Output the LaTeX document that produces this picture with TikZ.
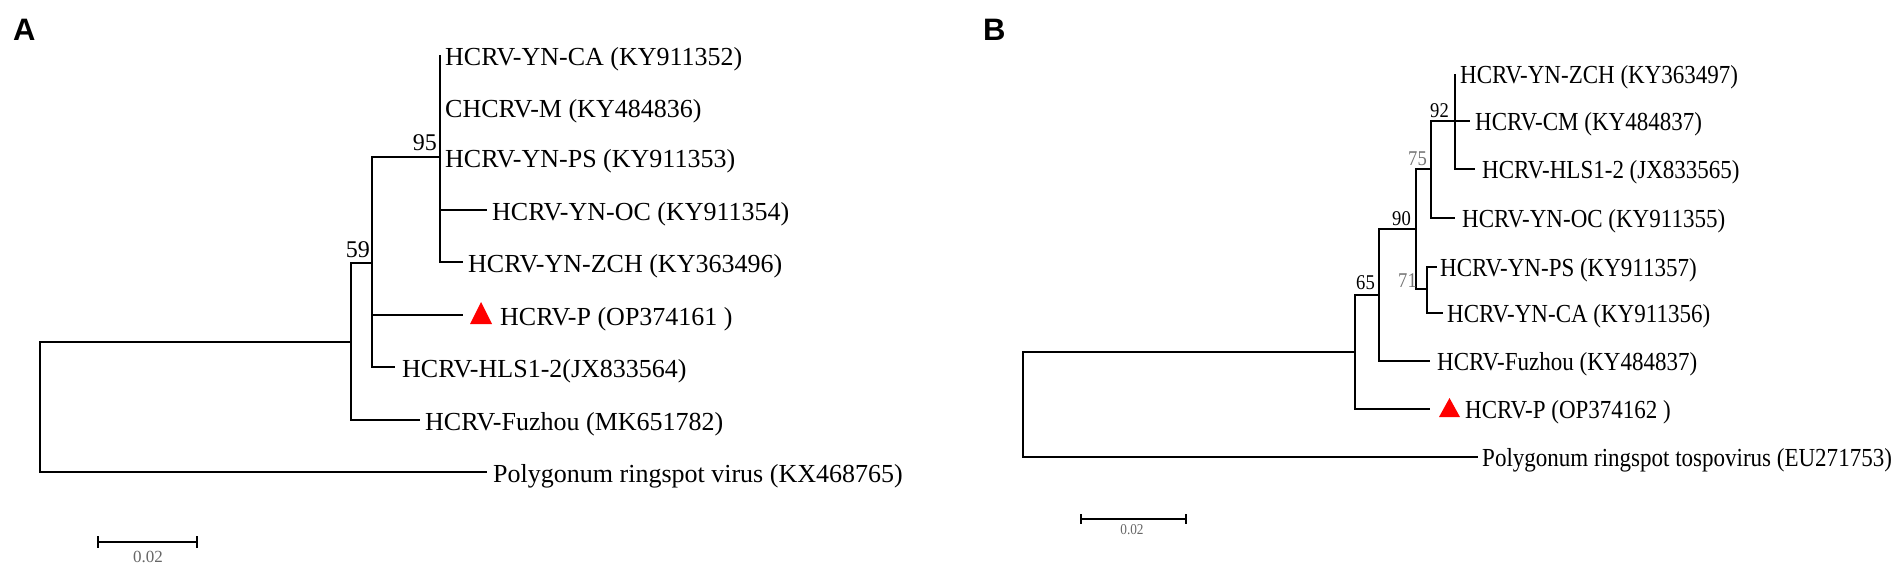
\documentclass[tikz,border=0pt]{standalone}
\usepackage{fontspec}
\setmainfont{Liberation Serif}
\newfontfamily\narrowserif[FakeStretch=0.885]{Liberation Serif}
\newfontfamily\panelfont{Liberation Sans}
\begin{document}
\begin{tikzpicture}[x=1pt,y=-1pt,
  br/.style={line width=2pt,line join=miter},
  thickbr/.style={line width=2.6pt,line join=miter},
  leafA/.style={anchor=base west,inner sep=0pt,font=\fontsize{26}{30}\selectfont},
  leafB/.style={anchor=base west,inner sep=0pt,font=\narrowserif\fontsize{26}{30}\selectfont},
  bootA/.style={anchor=base east,inner sep=0pt,font=\fontsize{24}{28}\selectfont},
  bootB/.style={anchor=base east,inner sep=0pt,font=\narrowserif\fontsize{21}{24}\selectfont},
  panel/.style={anchor=base west,inner sep=0pt,font=\panelfont\bfseries\fontsize{31}{36}\selectfont},
  scaletxt/.style={inner sep=0pt,text=black!60},
  redtri/.style={fill=red,draw=none}
]
\useasboundingbox (0,0) rectangle (1900,571);

% ================= Panel A =================
\node[panel] (lA) at (13,40) {A};

\coordinate (rootA) at (40,407);
\coordinate (inA) at (351,342);
\coordinate (n59) at (372,263);
\coordinate (n95) at (440,157);
\coordinate (a1) at (440,55);
\coordinate (a2) at (440,107);
\coordinate (a3) at (440,157);
\coordinate (a4) at (487,210);
\coordinate (a5) at (463,262);
\coordinate (a6) at (463,315);
\coordinate (a7) at (395,367);
\coordinate (a8) at (420,420);
\coordinate (a9) at (487,472);

\draw[br] (rootA) |- (inA);
\draw[br] (rootA) |- (a9);
\draw[br] (inA) |- (n59);
\draw[br] (inA) |- (a8);
\draw[br] (n59) |- (n95);
\draw[br] (n59) |- (a6);
\draw[br] (n59) |- (a7);
\draw[br] (n95) |- (a1);
\draw[br] (n95) |- (a2);
\draw[br] (n95) |- (a4);
\draw[br] (n95) |- (a5);

\node[bootA] (b95) at (437,150) {95};
\node[bootA] (b59) at (370,257) {59};

\node[leafA] (ta1) at (445,65) {HCRV-YN-CA (KY911352)};
\node[leafA] (ta2) at (445,117) {CHCRV-M (KY484836)};
\node[leafA] (ta3) at (445,167) {HCRV-YN-PS (KY911353)};
\node[leafA] (ta4) at (492,220) {HCRV-YN-OC (KY911354)};
\node[leafA] (ta5) at (468,272) {HCRV-YN-ZCH (KY363496)};
\fill[redtri] (470,324) -- (492,324) -- (481,302) -- cycle;
\node[leafA] (ta6) at (500,325) {HCRV-P (OP374161 )};
\node[leafA] (ta7) at (402,377) {HCRV-HLS1-2(JX833564)};
\node[leafA] (ta8) at (425,430) {HCRV-Fuzhou (MK651782)};
\node[leafA] (ta9) at (493,482) {Polygonum ringspot virus (KX468765)};

% scale bar A
\coordinate (sa1) at (98,542);
\coordinate (sa2) at (197,542);
\draw[line width=2.2pt] (sa1) -- (sa2);
\draw[line width=2.2pt] ([yshift=6pt]sa1) -- ([yshift=-6pt]sa1);
\draw[line width=2.2pt] ([yshift=6pt]sa2) -- ([yshift=-6pt]sa2);
\node[scaletxt,font=\fontsize{17}{20}\selectfont] (sta) at (148,557) {0.02};

% ================= Panel B =================
\node[panel] (lB) at (983,40) {B};

\coordinate (rootB) at (1023,400);
\coordinate (inB) at (1355,352);
\coordinate (n65) at (1379,295);
\coordinate (n90) at (1416,229);
\coordinate (n75) at (1431,169);
\coordinate (n92) at (1455,121);
\coordinate (n71) at (1427,289);
\coordinate (c1) at (1455,74);
\coordinate (c2) at (1470,121);
\coordinate (c3) at (1475,169);
\coordinate (c4) at (1455,218);
\coordinate (c5) at (1437,267);
\coordinate (c6) at (1443,313);
\coordinate (c7) at (1430,361);
\coordinate (c8) at (1430,409);
\coordinate (c9) at (1478,457);

\draw[br] (rootB) |- (inB);
\draw[br] (rootB) |- (c9);
\draw[br] (inB) |- (n65);
\draw[thickbr] (inB) |- (c8);
\draw[br] (n65) |- (n90);
\draw[br] (n65) |- (c7);
\draw[br] (n90) |- (n75);
\draw[br] (n90) |- (n71);
\draw[br] (n75) |- (n92);
\draw[br] (n75) |- (c4);
\draw[br] (n92) |- (c1);
\draw[br] (n92) |- (c2);
\draw[br] (n92) |- (c3);
\draw[br] (n71) |- (c5);
\draw[br] (n71) |- (c6);

\node[bootB] (b92) at (1449,117) {92};
\node[bootB,text=black!55] (b75) at (1427,165) {75};
\node[bootB] (b90) at (1411,225) {90};
\node[bootB,text=black!55] (b71) at (1417,287) {71};
\node[bootB] (b65) at (1375,289) {65};

\node[leafB] (tb1) at (1460,83) {HCRV-YN-ZCH (KY363497)};
\node[leafB] (tb2) at (1475,130) {HCRV-CM (KY484837)};
\node[leafB] (tb3) at (1482,178) {HCRV-HLS1-2 (JX833565)};
\node[leafB] (tb4) at (1462,227) {HCRV-YN-OC (KY911355)};
\node[leafB] (tb5) at (1440,276) {HCRV-YN-PS (KY911357)};
\node[leafB] (tb6) at (1447,322) {HCRV-YN-CA (KY911356)};
\node[leafB] (tb7) at (1437,370) {HCRV-Fuzhou (KY484837)};
\fill[redtri] (1439,417) -- (1460,417) -- (1449.5,398) -- cycle;
\node[leafB] (tb8) at (1465,418) {HCRV-P (OP374162 )};
\node[leafB] (tb9) at (1482,466) {Polygonum ringspot tospovirus (EU271753)};

% scale bar B
\coordinate (sb1) at (1081,519);
\coordinate (sb2) at (1186,519);
\draw[line width=2.2pt] (sb1) -- (sb2);
\draw[line width=2.2pt] ([yshift=5pt]sb1) -- ([yshift=-5pt]sb1);
\draw[line width=2.2pt] ([yshift=5pt]sb2) -- ([yshift=-5pt]sb2);
\node[scaletxt,font=\narrowserif\fontsize{15}{18}\selectfont] (stb) at (1132,530) {0.02};
\end{tikzpicture}
\end{document}
